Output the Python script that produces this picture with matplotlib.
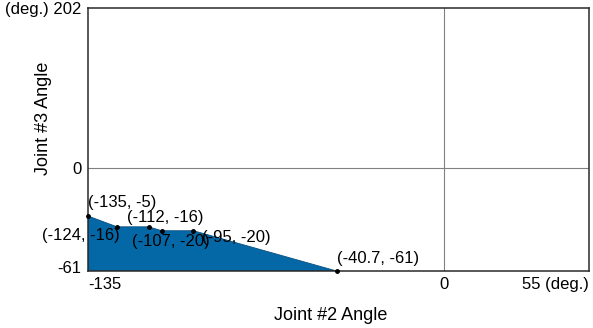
import matplotlib.pyplot as plt
import numpy as np
from matplotlib.transforms import ScaledTranslation

plt.rcParams['font.family'] = ['Liberation Sans', 'DejaVu Sans']

# Joint limit polygon (Joint #2, Joint #3), degrees
j2 = [-135, -124, -112, -107, -95, -40.7]
j3 = [-5, -16, -16, -20, -20, -61]
labels = ['(-135, -5)', '(-124, -16)', '(-112, -16)', '(-107, -20)', '(-95, -20)', '(-40.7, -61)']
# label offsets (pixels) from each point
offsets = [(34, 14), (-36, -9), (17, 9), (9, -11), (43, -7), (41, 12)]

xlim = (-135, 55)
ylim = (-61, 202)
xticks = [-135, 0, 55]
xticklabels = ['-135', '0', '55 (deg.)']
yticks = [-61, 0, 202]
yticklabels = ['-61', '0', '(deg.) 202']

# y axis in the original is not to scale: piecewise mapping
ynodes = [-61, -5, 0, 202]
ypix = [0, 55, 103, 263]


def fwd(v):
    return np.interp(v, ynodes, ypix)


def inv(p):
    return np.interp(p, ypix, ynodes)


fig = plt.figure(figsize=(5.93, 3.28), dpi=100)
ax = fig.add_axes([88 / 593, 57 / 328, 501 / 593, 263 / 328])
ax.set_yscale('function', functions=(fwd, inv))
ax.set_xlim(*xlim)
ax.set_ylim(*ylim)

ax.axhline(0, color='#808080', lw=0.8, zorder=1)
ax.axvline(0, color='#808080', lw=0.8, zorder=1)

px = j2 + [j2[-1], j2[0]]
py = j3 + [ylim[0], ylim[0]]
ax.fill(px, py, color='#0468a7', ec='#0a4f80', lw=0.6, zorder=2)
ax.plot(j2, j3, 'o', color='black', ms=2.5, zorder=3, clip_on=False)

for x, y, t, (dx, dy) in zip(j2, j3, labels, offsets):
    ax.annotate(t, (x, y), xytext=(dx, dy), textcoords='offset pixels',
                ha='center', va='center', fontsize=12)

ax.set_xticks(xticks)
ax.set_xticklabels(xticklabels, fontsize=12)
ax.set_yticks(yticks)
ax.set_yticklabels(yticklabels, fontsize=12)
ax.tick_params(length=0, pad=4.5)
ax.get_xticklabels()[0].set_ha('left')
ax.get_xticklabels()[-1].set_ha('right')
ax.get_yticklabels()[0].set_transform(ax.get_yticklabels()[0].get_transform()
                                      + ScaledTranslation(0, 4 / 100, fig.dpi_scale_trans))

for s in ax.spines.values():
    s.set_color('#2a2a2a')
    s.set_linewidth(1.1)

fig.text(43 / 593, 1 - 118 / 328, 'Joint #3 Angle', rotation=90,
         ha='center', va='center', fontsize=13)
fig.text(331 / 593, 1 - 316 / 328, 'Joint #2 Angle',
         ha='center', va='center', fontsize=13)

fig.savefig('out.png', dpi=100)
